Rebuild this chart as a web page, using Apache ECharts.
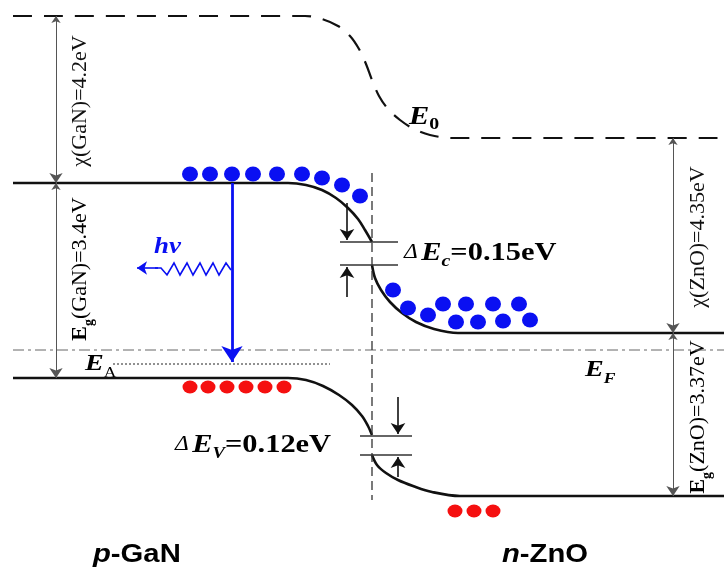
<!DOCTYPE html>
<html>
<head>
<meta charset="utf-8">
<script src="https://cdn.jsdelivr.net/npm/echarts@6/dist/echarts.min.js"></script>
<style>html,body{margin:0;padding:0;background:#fff}#c{width:724px;height:569px}</style>
</head>
<body>
<div id="c"></div>
<script>
// Diagram coordinates (schematic band diagram: x = position, y = energy, downward)
const vacuumLevel = [[13,16],[305,16],[322,19],[338,26],[350,36],[359,49],[366,64],[372,80],[379,96],[388,109],[400,120],[414,129],[430,135],[452,138],[724,138]];
const ganConduction = [[13,183],[288,183],[306,185],[322,190],[336,198],[348,208],[358,219],[365,230],[372,242]];
const znoConduction = [[372,265],[375,278],[381,290],[390,302],[402,313],[416,322],[434,329],[458,333],[724,333]];
const ganValence = [[13,378],[288,378],[306,380],[323,386],[339,395],[352,405],[362,416],[368,426],[372,435]];
const znoValence = [[372,455],[377,465],[386,473],[398,480],[413,486],[432,492],[460,496],[724,496]];
const fermiLevel = [[13,350],[724,350]];
const acceptorLevel = [[113,364],[330,364]];
const interfaceLine = [[372,173],[372,500]];

const electronsGaN = [[190,174],[210,174],[232,174],[253,174],[277,174],[302,174],[322,178],[342,185],[360,196]];
const electronsZnO = [[393,290],[408,308],[428,315],[443,304],[456,322],[466,304],[478,322],[493,304],[503,321],[519,304],[530,320]];
const holesGaN = [[190,387],[208,387],[227,387],[246,387],[265,387],[284,387]];
const holesZnO = [[455,511],[474,511],[493,511]];

const gapArrows = [
  [[56,16],[56,183]],
  [[56,183],[56,378]],
  [[673,138],[673,333]],
  [[673,333],[673,496]]
];
const offsetTicks = [
  [[340,242],[398,242]], [[340,265],[398,265]],
  [[360,436],[412,436]], [[360,455],[412,455]]
];
const offsetArrows = [
  [[347,203],[347,240]], [[347,297],[347,267]],
  [[398,397],[398,434]], [[398,477],[398,457]]
];
const recombination = [[232,183],[232,362]];
const photonWave = [[231,270],[226,263],[219,275],[213,263],[206,275],[200,263],[193,275],[187,263],[180,275],[174,263],[167,275],[161,268],[155,268]];
const photonHead = [[158,268],[137,268]];

const serif = '"Liberation Serif", "DejaVu Serif", serif';
const sans = '"Liberation Sans", Arial, sans-serif';
const BLUE = '#0a10f2', RED = '#f51010';
const SX = 1.17;

function lineS(data, style, smooth) {
  style.opacity = 1;
  return {type:'line', data:data, showSymbol:false, symbol:'none', smooth:smooth?0.35:false,
    lineStyle:style, silent:true, z:3};
}
function linesS(list, style, symbol, size, z) {
  style.opacity = 1;
  return {type:'lines', coordinateSystem:'cartesian2d', polyline:false, silent:true, z:z||4,
    symbol:symbol, symbolSize:size, lineStyle:style,
    data:list.map(c=>({coords:c}))};
}
function dots(data, color, size) {
  return {type:'scatter',data:data,symbol:'circle',symbolSize:size,itemStyle:{color:color,opacity:1},silent:true,z:5};
}
const sub = {fontFamily:serif, fontSize:14, fontWeight:'bold', verticalAlign:'bottom', lineHeight:14, padding:[0,0,-5,0]};

const chart = echarts.init(document.getElementById('c'), null, {renderer:'canvas'});
chart.setOption({
  animation:false,
  backgroundColor:'#fff',
  grid:{left:0,right:0,top:0,bottom:0},
  xAxis:{type:'value',min:0,max:724,show:false},
  yAxis:{type:'value',min:0,max:569,inverse:true,show:false},
  series:[
    lineS(vacuumLevel,{color:'#111',width:2.2,type:[19,12]},true),
    lineS(ganConduction,{color:'#111',width:2.6},true),
    lineS(znoConduction,{color:'#111',width:2.6},true),
    lineS(ganValence,{color:'#111',width:2.6},true),
    lineS(znoValence,{color:'#111',width:2.6},true),
    lineS(fermiLevel,{color:'#666',width:1,type:[11,4,3,4]},false),
    lineS(acceptorLevel,{color:'#222',width:1,type:[2,2]},false),
    lineS(interfaceLine,{color:'#333',width:1.3,type:[9,5]},false),
    linesS(gapArrows,{color:'#555',width:1},['arrow','arrow'],[7,10]),
    linesS(offsetTicks,{color:'#333',width:1.6},['none','none'],1),
    linesS(offsetArrows,{color:'#111',width:1.6},['none','arrow'],[8,11]),
    linesS([recombination],{color:BLUE,width:2.8},['none','arrow'],[12,16],6),
    {type:'lines',coordinateSystem:'cartesian2d',polyline:true,silent:true,z:6,
      lineStyle:{color:BLUE,width:1.6,opacity:1},data:[{coords:photonWave}]},
    linesS([photonHead],{color:BLUE,width:1.6},['none','arrow'],[8,10],6),
    dots(electronsGaN,BLUE,[16,15]),
    dots(electronsZnO,BLUE,[16,15]),
    dots(holesGaN,RED,[15,13]),
    dots(holesZnO,RED,[15,13])
  ],
  graphic:[
    {type:'text',x:80,y:101,rotation:Math.PI/2,style:{text:'χ(GaN)=4.2eV',font:'22px '+serif,fill:'#111',align:'center',verticalAlign:'middle'}},
    {type:'text',x:80,y:269,rotation:Math.PI/2,style:{text:'{b|E}{s|g}{n|(GaN)=3.4eV}',align:'center',verticalAlign:'middle',
      rich:{b:{fontFamily:serif,fontSize:22,fontWeight:'bold',lineHeight:22},s:Object.assign({},sub,{fontSize:14}),n:{fontFamily:serif,fontSize:22,lineHeight:22}}}},
    {type:'text',x:698,y:237,rotation:Math.PI/2,style:{text:'χ(ZnO)=4.35eV',font:'22px '+serif,fill:'#111',align:'center',verticalAlign:'middle'}},
    {type:'text',x:698,y:417,rotation:Math.PI/2,style:{text:'{b|E}{s|g}{n|(ZnO)=3.37eV}',align:'center',verticalAlign:'middle',
      rich:{b:{fontFamily:serif,fontSize:22,fontWeight:'bold',lineHeight:22},s:Object.assign({},sub,{fontSize:14}),n:{fontFamily:serif,fontSize:22,lineHeight:22}}}},
    {type:'text',x:409,y:117,scaleX:SX,style:{text:'{e|E}{s|0}',align:'left',verticalAlign:'middle',
      rich:{e:{fontFamily:serif,fontSize:26,fontStyle:'italic',fontWeight:'bold',lineHeight:26},s:Object.assign({},sub,{fontSize:17,padding:[0,0,-3,0]})}}},
    {type:'text',x:404,y:253,scaleX:SX,style:{text:'{d|Δ}{e|E}{s|c}{n|=0.15eV}',align:'left',verticalAlign:'middle',
      rich:{d:{fontFamily:serif,fontSize:20,fontStyle:'italic',lineHeight:26,padding:[0,3,0,0]},e:{fontFamily:serif,fontSize:26,fontStyle:'italic',fontWeight:'bold',lineHeight:26},
        s:Object.assign({},sub,{fontSize:17,fontStyle:'italic',padding:[0,0,-4,0]}),n:{fontFamily:serif,fontSize:26,fontWeight:'bold',lineHeight:26}}}},
    {type:'text',x:175,y:445,scaleX:SX,style:{text:'{d|Δ}{e|E}{s|V}{n|=0.12eV}',align:'left',verticalAlign:'middle',
      rich:{d:{fontFamily:serif,fontSize:20,fontStyle:'italic',lineHeight:26,padding:[0,3,0,0]},e:{fontFamily:serif,fontSize:26,fontStyle:'italic',fontWeight:'bold',lineHeight:26},
        s:Object.assign({},sub,{fontSize:16,fontStyle:'italic',padding:[0,0,-4,0]}),n:{fontFamily:serif,fontSize:26,fontWeight:'bold',lineHeight:26}}}},
    {type:'text',x:585,y:370,scaleX:SX,style:{text:'{e|E}{s|F}',align:'left',verticalAlign:'middle',
      rich:{e:{fontFamily:serif,fontSize:24,fontStyle:'italic',fontWeight:'bold',lineHeight:26},s:Object.assign({},sub,{fontSize:15,fontStyle:'italic',padding:[0,0,-4,0]})}}},
    {type:'text',x:85,y:364,scaleX:SX,style:{text:'{e|E}{s|A}',align:'left',verticalAlign:'middle',
      rich:{e:{fontFamily:serif,fontSize:24,fontStyle:'italic',fontWeight:'bold',lineHeight:26},s:Object.assign({},sub,{fontSize:15,fontWeight:'normal',padding:[0,0,-4,0]})}}},
    {type:'text',x:154,y:247,scaleX:SX,style:{text:'hν',font:'italic bold 23px '+serif,fill:BLUE,align:'left',verticalAlign:'middle'}},
    {type:'text',x:93,y:555,scaleX:SX,style:{text:'{i|p}{n|-GaN}',align:'left',verticalAlign:'middle',
      rich:{i:{fontFamily:sans,fontSize:25,fontStyle:'italic',fontWeight:'bold'},n:{fontFamily:sans,fontSize:25,fontWeight:'bold'}}}},
    {type:'text',x:502,y:555,scaleX:SX,style:{text:'{i|n}{n|-ZnO}',align:'left',verticalAlign:'middle',
      rich:{i:{fontFamily:sans,fontSize:25,fontStyle:'italic',fontWeight:'bold'},n:{fontFamily:sans,fontSize:25,fontWeight:'bold'}}}}
  ]
});
</script>
</body>
</html>
